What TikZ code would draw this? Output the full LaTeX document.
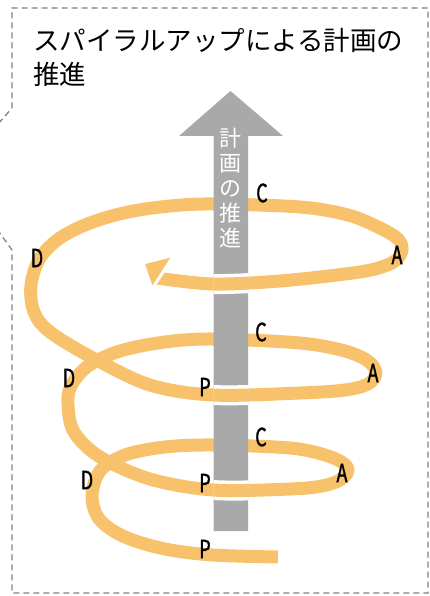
\documentclass[tikz,border=0pt]{standalone}
\usepackage{fontspec}
\setmainfont{Noto Sans CJK JP}
\newfontfamily\labfont[FakeStretch=0.72, FakeBold=1.2]{Noto Sans CJK JP}
\definecolor{sporange}{RGB}{248,194,108}
\definecolor{shaftgray}{RGB}{168,169,168}
\definecolor{framegray}{RGB}{128,128,128}
\newcommand{\spiralpath}{plot[smooth,tension=0.55] coordinates {(278,557) (213,555) (165,549) (125,537) (100,520) (92,497) (100,471) (125,455) (165,447) (213,445) (290,448) (325,455) (343,463) (348,471) (340,480) (322,486) (290,489) (213,490) (150,479) (100,457) (74,432) (68,405) (71,386) (88,366) (120,351) (165,342) (213,339) (300,343) (345,351) (368,361) (376,373) (368,384) (345,390) (300,393) (213,395) (150,385) (93,358) (50,332) (34,312) (31,285) (40,258) (60,238) (90,223) (128,212) (170,206) (213,204) (300,207) (348,215) (380,228) (398,239) (402,250) (395,261) (375,269) (345,274) (280,281) (213,284) (157,278)}}
\begin{document}
\begin{tikzpicture}[x=1pt,y=-1pt,
  band/.style={line width=13pt, draw=sporange, line cap=butt, line join=round},
  halo/.style={line width=20pt, draw=white, line cap=butt, line join=round},
  lab/.style={font=\labfont\fontsize{25}{25}\selectfont, inner sep=0pt, text=black},
  title/.style={font=\fontsize{26.5}{30}\selectfont, inner sep=0pt, anchor=west},
]
\useasboundingbox (0,0) rectangle (430,596);
\clip (0,0) rectangle (430,596);
\draw[framegray, line width=1.3pt, dash pattern=on 6pt off 4pt] (-8,131) -- (12,108) -- (12,8) -- (428,8) -- (428,593) -- (12,593) -- (12,250) -- (-6,225);
% title
\node[title] (t1) at (33,40) {スパイラルアップによる計画の};
\node[title] (t2) at (33,74) {推進};
% spiral (back)
\draw[band] \spiralpath;
% shaft + arrowhead
\fill[shaftgray] (213.5,531) -- (213.5,136) -- (179,136) -- (230.5,91) -- (283,136) -- (248,136) -- (248,531) -- cycle;
\node[font=\fontsize{22}{25}\selectfont, text=white, align=center, inner sep=0pt] (shafttext) at (230.5,188) {計\\画\\の\\推\\進};
% front parts over shaft
\begin{scope}
\clip (213.5,262) rectangle (248,304) (213.5,376) rectangle (248,414) (213.5,472) rectangle (248,510);
\draw[halo] \spiralpath;
\draw[band] \spiralpath;
\end{scope}
% arrowhead of spiral
\filldraw[fill=sporange, draw=white, line width=3pt, line join=miter] (143,263) -- (174,255) -- (152,289) -- cycle;
% labels
\node[lab] (c1) at (262,193) {C};
\node[lab] (a1) at (397,255) {A};
\node[lab] (d1) at (37,258) {D};
\node[lab] (c2) at (261,332) {C};
\node[lab] (a2) at (373,373) {A};
\node[lab] (d2) at (69,378) {D};
\node[lab] (p2) at (205,387) {P};
\node[lab] (c3) at (261,437) {C};
\node[lab] (a3) at (342,473) {A};
\node[lab] (d3) at (87,480) {D};
\node[lab] (p3) at (205,483) {P};
\node[lab] (p4) at (205,549) {P};
\end{tikzpicture}
\end{document}
